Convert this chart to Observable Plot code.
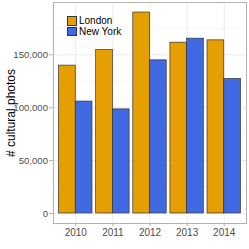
<!DOCTYPE html>
<html><head><meta charset="utf-8">
<script src="https://cdn.jsdelivr.net/npm/d3@7"></script>
<script src="https://cdn.jsdelivr.net/npm/@observablehq/plot@0.6"></script>
<style>
body{margin:0;background:#fff;font-family:"Liberation Sans",Arial,sans-serif;}
#wrap{position:relative;width:249px;height:249px;}
#legend{position:absolute;left:67px;top:16px;font-size:10px;line-height:10px;color:#000;}
#legend div{display:flex;align-items:center;height:10px;margin-bottom:0.5px;}
#legend span.k{display:inline-block;width:8px;height:7.5px;border:0.8px solid #333;margin-right:2px;}
#ytitle{position:absolute;left:11px;top:112.5px;width:0;height:0;}
#ytitle span{position:absolute;left:0;top:0;transform:translate(-50%,-50%) rotate(-90deg);white-space:nowrap;font-size:12px;line-height:14px;color:#000;}
</style></head><body>
<div id="wrap"><div id="legend"></div><div id="ytitle"><span></span></div></div>
<script>
const years = [2010, 2011, 2012, 2013, 2014];
const cities = ["London", "New York"];
const london = [139800, 154500, 190000, 161500, 163700];
const newYork = [105800, 98400, 144800, 165300, 127200];
const colors = ["#E69F00", "#4169E1"];
const yTicks = [0, 50000, 100000, 150000];
const yTitle = "# cultural photos";

const barW = 0.45;
const rows = [];
years.forEach((y, i) => {
  rows.push({year: y, city: cities[0], value: london[i], x1: y - barW, x2: y});
  rows.push({year: y, city: cities[1], value: newYork[i], x1: y, x2: y + barW});
});
const minor = [25000, 75000, 125000, 175000];

const chart = Plot.plot({
  width: 249, height: 249,
  marginLeft: 53, marginRight: 3, marginTop: 2, marginBottom: 26,
  style: {fontFamily: '"Liberation Sans", Arial, sans-serif', fontSize: "10px", color: "#000", background: "#fff"},
  x: {domain: [2009.4, 2014.6]},
  y: {domain: [-9500, 199500]},
  color: {domain: cities, range: colors},
  marks: [
    Plot.ruleY(minor, {stroke: "#f2f2f2", strokeWidth: 0.6}),
    Plot.ruleY(yTicks, {stroke: "#ebebeb", strokeWidth: 1}),
    Plot.ruleX(years, {stroke: "#ebebeb", strokeWidth: 1}),
    Plot.rectY(rows, {x1: "x1", x2: "x2", y1: 0, y2: "value", fill: "city", stroke: "#333", strokeWidth: 0.7, inset: 0}),
    Plot.frame({stroke: "#b3b3b3", strokeWidth: 1}),
    Plot.axisX({ticks: years, tickFormat: d => String(d), tickSize: 3, tickPadding: 2, stroke: "#b3b3b3", fill: "#4d4d4d", label: null, fontSize: 10}),
    Plot.axisY({ticks: yTicks, tickFormat: d3.format(","), tickSize: 4, tickPadding: 1.5, stroke: "#b3b3b3", fill: "#4d4d4d", fontSize: 9.6, label: null})
  ]
});
const wrap = document.getElementById("wrap");
wrap.insertBefore(chart, wrap.firstChild);
document.querySelector("#ytitle span").textContent = yTitle;
const leg = document.getElementById("legend");
cities.forEach((c, i) => {
  const d = document.createElement("div");
  d.innerHTML = `<span class="k" style="background:${colors[i]}"></span>${c}`;
  leg.appendChild(d);
});
</script>
</body></html>
